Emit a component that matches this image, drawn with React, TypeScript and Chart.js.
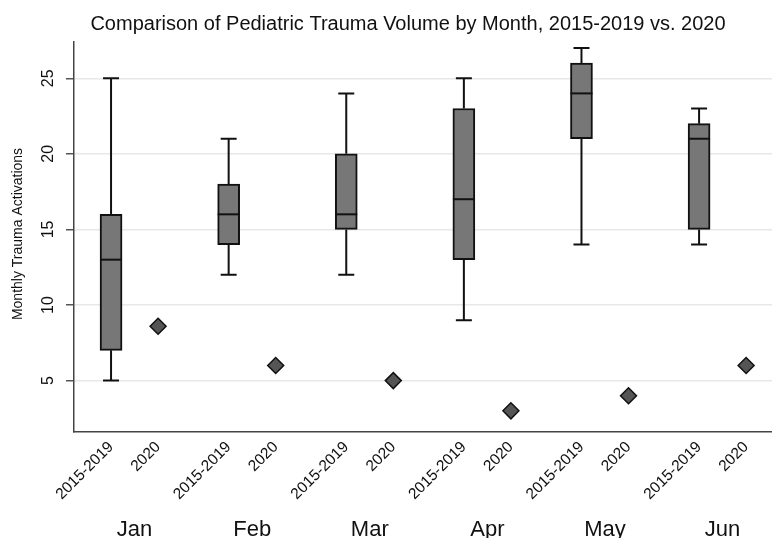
import React, { useEffect, useRef } from 'react';
import { Chart, registerables } from 'chart.js';

Chart.register(...registerables);

// ---- data ----
const months = ['Jan', 'Feb', 'Mar', 'Apr', 'May', 'Jun'];
const groupLabels = ['2015-2019', '2020'];
const boxMin = [5, 12, 12, 9, 14, 14];
const boxQ1 = [7, 14, 15, 13, 21, 15];
const boxMedian = [13, 16, 16, 17, 24, 21];
const boxQ3 = [16, 18, 20, 23, 26, 22];
const boxMax = [25, 21, 24, 25, 27, 23];
const value2020 = [8.6, 6, 5, 3, 4, 6];
const yTicks = [5, 10, 15, 20, 25];
const yAxisTitle = 'Monthly Trauma Activations';
const chartTitle = 'Comparison of Pediatric Trauma Volume by Month, 2015-2019 vs. 2020';

// ---- layout / style ----
const PAIR_OFFSET = 0.4;
const FONT = '"Liberation Sans", Arial, Helvetica, sans-serif';
const INK = '#111111';

const boxPlugin = {
  id: 'boxExtras',
  beforeDatasetsDraw(chart: any) {
    const { ctx, scales } = chart;
    const x = scales.x;
    const y = scales.y;
    ctx.save();
    ctx.strokeStyle = INK;
    ctx.lineWidth = 2;
    const capHalf = 8;
    months.forEach((_, i) => {
      const px = x.getPixelForValue(i);
      const yMax = y.getPixelForValue(boxMax[i]);
      const yMin = y.getPixelForValue(boxMin[i]);
      const yQ1 = y.getPixelForValue(boxQ1[i]);
      const yQ3 = y.getPixelForValue(boxQ3[i]);
      ctx.beginPath();
      ctx.moveTo(px, yQ3);
      ctx.lineTo(px, yMax);
      ctx.moveTo(px - capHalf, yMax);
      ctx.lineTo(px + capHalf, yMax);
      ctx.moveTo(px, yQ1);
      ctx.lineTo(px, yMin);
      ctx.moveTo(px - capHalf, yMin);
      ctx.lineTo(px + capHalf, yMin);
      ctx.stroke();
    });
    ctx.restore();
  },
  afterDatasetsDraw(chart: any) {
    const { ctx, scales } = chart;
    const x = scales.x;
    const y = scales.y;
    const meta = chart.getDatasetMeta(0);
    ctx.save();
    ctx.strokeStyle = INK;
    ctx.lineWidth = 2;
    months.forEach((_, i) => {
      const bar = meta.data[i];
      const half = bar.width / 2;
      const px = x.getPixelForValue(i);
      const py = y.getPixelForValue(boxMedian[i]);
      ctx.beginPath();
      ctx.moveTo(px - half, py);
      ctx.lineTo(px + half, py);
      ctx.stroke();
    });
    ctx.restore();
  },
  afterDraw(chart: any) {
    const { ctx, scales } = chart;
    const x = scales.x;
    const y = scales.y;
    ctx.save();
    ctx.fillStyle = INK;
    // title
    ctx.font = `20px ${FONT}`;
    ctx.textAlign = 'center';
    ctx.textBaseline = 'alphabetic';
    ctx.fillText(chartTitle, 408, 30);
    // y tick labels (rotated)
    ctx.font = `16px ${FONT}`;
    ctx.textBaseline = 'middle';
    yTicks.forEach((v) => {
      const py = y.getPixelForValue(v);
      ctx.save();
      ctx.translate(49, py);
      ctx.rotate(-Math.PI / 2);
      ctx.fillText(String(v), 0, 0);
      ctx.restore();
    });
    // y axis title
    ctx.font = `14px ${FONT}`;
    ctx.save();
    ctx.translate(18, 234);
    ctx.rotate(-Math.PI / 2);
    ctx.fillText(yAxisTitle, 0, 0);
    ctx.restore();
    // month labels
    ctx.font = `22px ${FONT}`;
    ctx.textBaseline = 'alphabetic';
    months.forEach((m, i) => {
      const px = x.getPixelForValue(i + PAIR_OFFSET / 2);
      ctx.fillText(m, px, 536);
    });
    ctx.restore();
  },
};

export default function App() {
  const ref = useRef<HTMLCanvasElement>(null);
  useEffect(() => {
    document.body.style.margin = '0';
    const canvas = ref.current;
    if (!canvas) return;
    const chart = new Chart(canvas, {
      type: 'bar',
      data: {
        datasets: [
          {
            type: 'bar',
            label: groupLabels[0],
            data: months.map((_, i) => ({ x: i, y: [boxQ1[i], boxQ3[i]] })) as any,
            backgroundColor: '#777777',
            borderColor: INK,
            borderWidth: 2,
            borderSkipped: false,
            barThickness: 22,
          } as any,
          {
            type: 'scatter',
            label: groupLabels[1],
            data: months.map((_, i) => ({ x: i + PAIR_OFFSET, y: value2020[i] })),
            pointStyle: 'rectRot',
            radius: 8,
            backgroundColor: '#555555',
            borderColor: INK,
            borderWidth: 1.5,
          } as any,
        ],
      },
      options: {
        responsive: false,
        maintainAspectRatio: false,
        animation: false,
        events: [],
        layout: { autoPadding: false, padding: { top: 42, left: 0, right: 0, bottom: 0 } },
        plugins: {
          legend: { display: false },
          tooltip: { enabled: false },
          title: { display: false },
        },
        scales: {
          x: {
            type: 'linear',
            min: -0.315,
            max: 5.62,
            offset: false,
            grid: { display: false, drawTicks: false, offset: false },
            border: { display: true, color: '#444444', width: 1.5 },
            afterBuildTicks: (s: any) => {
              s.ticks = months.flatMap((_, i) => [{ value: i }, { value: i + PAIR_OFFSET }]);
            },
            afterFit: (s: any) => {
              s.height = 106;
              s.paddingLeft = 0;
              s.paddingRight = 0;
            },
            ticks: {
              autoSkip: false,
              minRotation: 45,
              maxRotation: 45,
              padding: 6,
              color: INK,
              font: { family: FONT, size: 15.5 },
              callback: (_v: any, idx: number) => groupLabels[idx % 2],
            },
          },
          y: {
            type: 'linear',
            min: 1.6,
            max: 27.4,
            afterBuildTicks: (s: any) => {
              s.ticks = yTicks.map((v) => ({ value: v }));
            },
            afterFit: (s: any) => {
              s.width = 74;
              s.paddingTop = 0;
              s.paddingBottom = 0;
            },
            grid: { color: '#e8e8e8', lineWidth: 1.5, tickLength: 8, tickColor: '#555555', drawTicks: true },
            border: { display: true, color: '#444444', width: 1.5 },
            ticks: { display: false },
          },
        },
      } as any,
      plugins: [boxPlugin],
    });
    return () => chart.destroy();
  }, []);
  return (
    <div style={{ width: 772, height: 538 }}>
      <canvas ref={ref} width={772} height={538} style={{ display: 'block' }} />
    </div>
  );
}
